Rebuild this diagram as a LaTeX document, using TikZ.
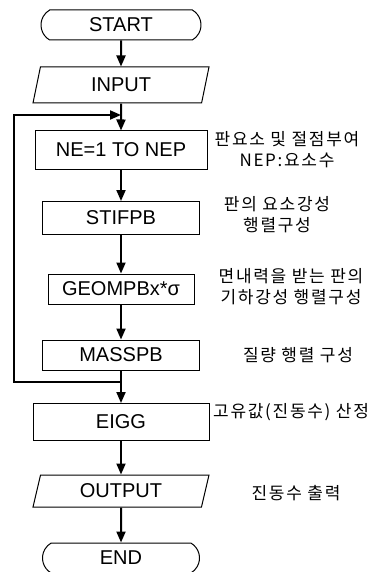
\documentclass[tikz,border=0pt]{standalone}
\usepackage{fontspec}
\setmainfont{Liberation Sans}
\newfontfamily\kr[LetterSpace=10]{Noto Sans CJK KR}
\usetikzlibrary{arrows.meta,shapes.geometric,shapes.misc}

\begin{document}
\begin{tikzpicture}[x=1pt,y=1pt,
	box/.style={draw,line width=1pt,inner sep=0pt,font=\fontsize{20}{22}\selectfont},
	term/.style={box,rounded rectangle,rounded rectangle arc length=120,minimum width=160pt,minimum height=30pt},
	io/.style={box,trapezium,trapezium left angle=62,trapezium right angle=118,trapezium stretches body,minimum width=176pt,minimum height=36pt},
	note/.style={font=\kr\fontsize{17}{21}\selectfont,align=center,inner sep=0pt},
	flow/.style={line width=2pt,-{Triangle[length=11pt,width=9pt]}}]
	\useasboundingbox (0,0) rectangle (374,-572);
	\node[term] (start) at (121,-25){START};
	\node[io] (input) at (121,-85){INPUT};
	\node[box,minimum width=172pt,minimum height=38pt] (ne) at (121,-150){NE=1 TO NEP};
	\node[box,minimum width=157pt,minimum height=33pt] (stif) at (121,-218){STIFPB};
	\node[box,minimum width=146pt,minimum height=30pt] (geom) at (121,-289){GEOMPBx*σ};
	\node[box,minimum width=157pt,minimum height=30pt] (mass) at (121,-355){MASSPB};
	\node[box,minimum width=176pt,minimum height=37pt] (eigg) at (121,-422){EIGG};
	\node[io,minimum height=32pt] (output) at (121,-491){OUTPUT};
	\node[term,minimum width=157pt] (end) at (121,-558){END};
	\foreach \a/\b in {start/input,input/ne,ne/stif,stif/geom,geom/mass,mass/eigg,eigg/output,output/end}
		\draw[flow] (\a)--(\b);
	\coordinate (jtop) at (121,-115);
	\coordinate (jbot) at (121,-382);
	\draw[flow] (jbot)--(14,-382)|-(jtop);
	\node[note] (nen) at (287,-150){판요소 및 절점부여\\NEP:요소수};
	\node[note] (stifn) at (277,-215){판의 요소강성\\행렬구성};
	\node[note] (geomn) at (291,-287){면내력을 받는 판의\\기하강성 행렬구성};
	\node[note] (massn) at (298,-355){질량 행렬 구성};
	\node[note,anchor=west] (eiggn) at (213,-412){고유값(진동수) 산정};
	\node[note] (outputn) at (296,-493){진동수 출력};
\end{tikzpicture}
\end{document}
